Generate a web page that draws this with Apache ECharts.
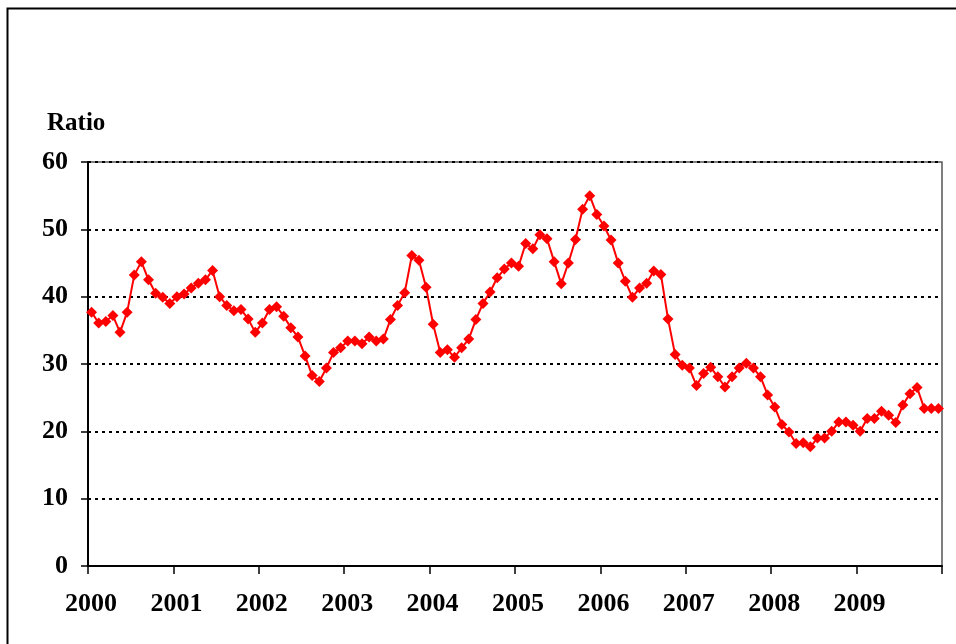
<!DOCTYPE html>
<html>
<head>
<meta charset="utf-8">
<script src="https://cdn.jsdelivr.net/npm/echarts@6/dist/echarts.min.js"></script>
<style>
html,body{margin:0;padding:0;background:#fff;}
#chart{width:956px;height:644px;}
</style>
</head>
<body>
<div id="chart"></div>
<script>
// Monthly ratio, Jan 2000 .. Dec 2009
const ratioValues = [
  37.7, 36.1, 36.3, 37.2, 34.7, 37.7, 43.2, 45.2, 42.5, 40.5, 39.9, 39.0,
  40.0, 40.4, 41.3, 42.0, 42.5, 43.9, 40.0, 38.7, 37.9, 38.1, 36.7, 34.7,
  36.1, 38.1, 38.5, 37.1, 35.4, 34.0, 31.2, 28.3, 27.4, 29.4, 31.7, 32.4,
  33.4, 33.4, 33.0, 34.0, 33.4, 33.7, 36.6, 38.7, 40.6, 46.1, 45.4, 41.4,
  35.9, 31.7, 32.1, 31.0, 32.4, 33.7, 36.6, 39.0, 40.7, 42.8, 44.1, 45.0,
  44.5, 47.9, 47.1, 49.2, 48.6, 45.2, 41.9, 45.0, 48.5, 53.0, 55.0, 52.2,
  50.5, 48.4, 45.0, 42.3, 39.9, 41.3, 42.0, 43.8, 43.3, 36.7, 31.4, 29.8,
  29.4, 26.8, 28.6, 29.5, 28.1, 26.6, 28.1, 29.4, 30.1, 29.4, 28.1, 25.4,
  23.6, 21.0, 19.9, 18.2, 18.3, 17.7, 19.0, 19.0, 20.0, 21.4, 21.4, 20.9,
  20.0, 21.9, 21.9, 23.0, 22.4, 21.3, 23.9, 25.6, 26.5, 23.4, 23.4, 23.4
];
const startYear = 2000;
const yearLabels = ['2000','2001','2002','2003','2004','2005','2006','2007','2008','2009'];
const yTicks = [0, 10, 20, 30, 40, 50, 60];
const yTitle = 'Ratio';

const monthsTotal = yearLabels.length * 12;
const seriesData = ratioValues.map((v, i) => [i + 0.5, v]);

const FONT = "'Liberation Serif', 'Times New Roman', serif";
const chart = echarts.init(document.getElementById('chart'), null, {renderer: 'canvas'});
chart.setOption({
  backgroundColor: '#fff',
  animation: false,
  graphic: [
    { type: 'rect', left: 5, top: 6, shape: { x: 0, y: 0, width: 960, height: 700 },
      style: { fill: 'none', stroke: '#000', lineWidth: 2 }, silent: true },
    { type: 'text', left: 47, top: 111,
      style: { text: yTitle, font: 'bold 25px ' + FONT, fill: '#000' } }
  ],
  grid: { left: 88, right: 14, top: 162, bottom: 78, show: true,
          borderColor: '#555', borderWidth: 1.5, backgroundColor: 'transparent' },
  xAxis: {
    type: 'value', min: 0, max: monthsTotal, interval: 12,
    axisLine: { show: true, onZero: false, lineStyle: { color: '#000', width: 2 } },
    axisTick: { show: true, inside: false, length: 8, lineStyle: { color: '#000', width: 1.5 } },
    axisLabel: {
      show: true, margin: 25, fontFamily: FONT, fontWeight: 'bold', fontSize: 26, color: '#000',
      padding: [0, 0, 0, 6],
      showMaxLabel: true, showMinLabel: true,
      formatter: v => { const k = Math.round(v / 12); return k < yearLabels.length ? yearLabels[k] : ''; }
    },
    splitLine: { show: false }
  },
  yAxis: {
    type: 'value', min: yTicks[0], max: yTicks[yTicks.length - 1], interval: yTicks[1] - yTicks[0],
    axisLine: { show: true, lineStyle: { color: '#000', width: 2 } },
    axisTick: { show: true, inside: false, length: 7, lineStyle: { color: '#000', width: 1.5 } },
    axisLabel: { margin: 20, fontFamily: FONT, fontWeight: 'bold', fontSize: 26, color: '#000' },
    splitLine: { show: true, lineStyle: { color: '#000', width: 2, type: [3, 4] } }
  },
  series: [{
    type: 'line', data: seriesData,
    symbol: 'diamond', symbolSize: 11,
    lineStyle: { color: '#ff0000', width: 2 },
    itemStyle: { color: '#ff0000' },
    z: 5
  }]
});
</script>
</body>
</html>
